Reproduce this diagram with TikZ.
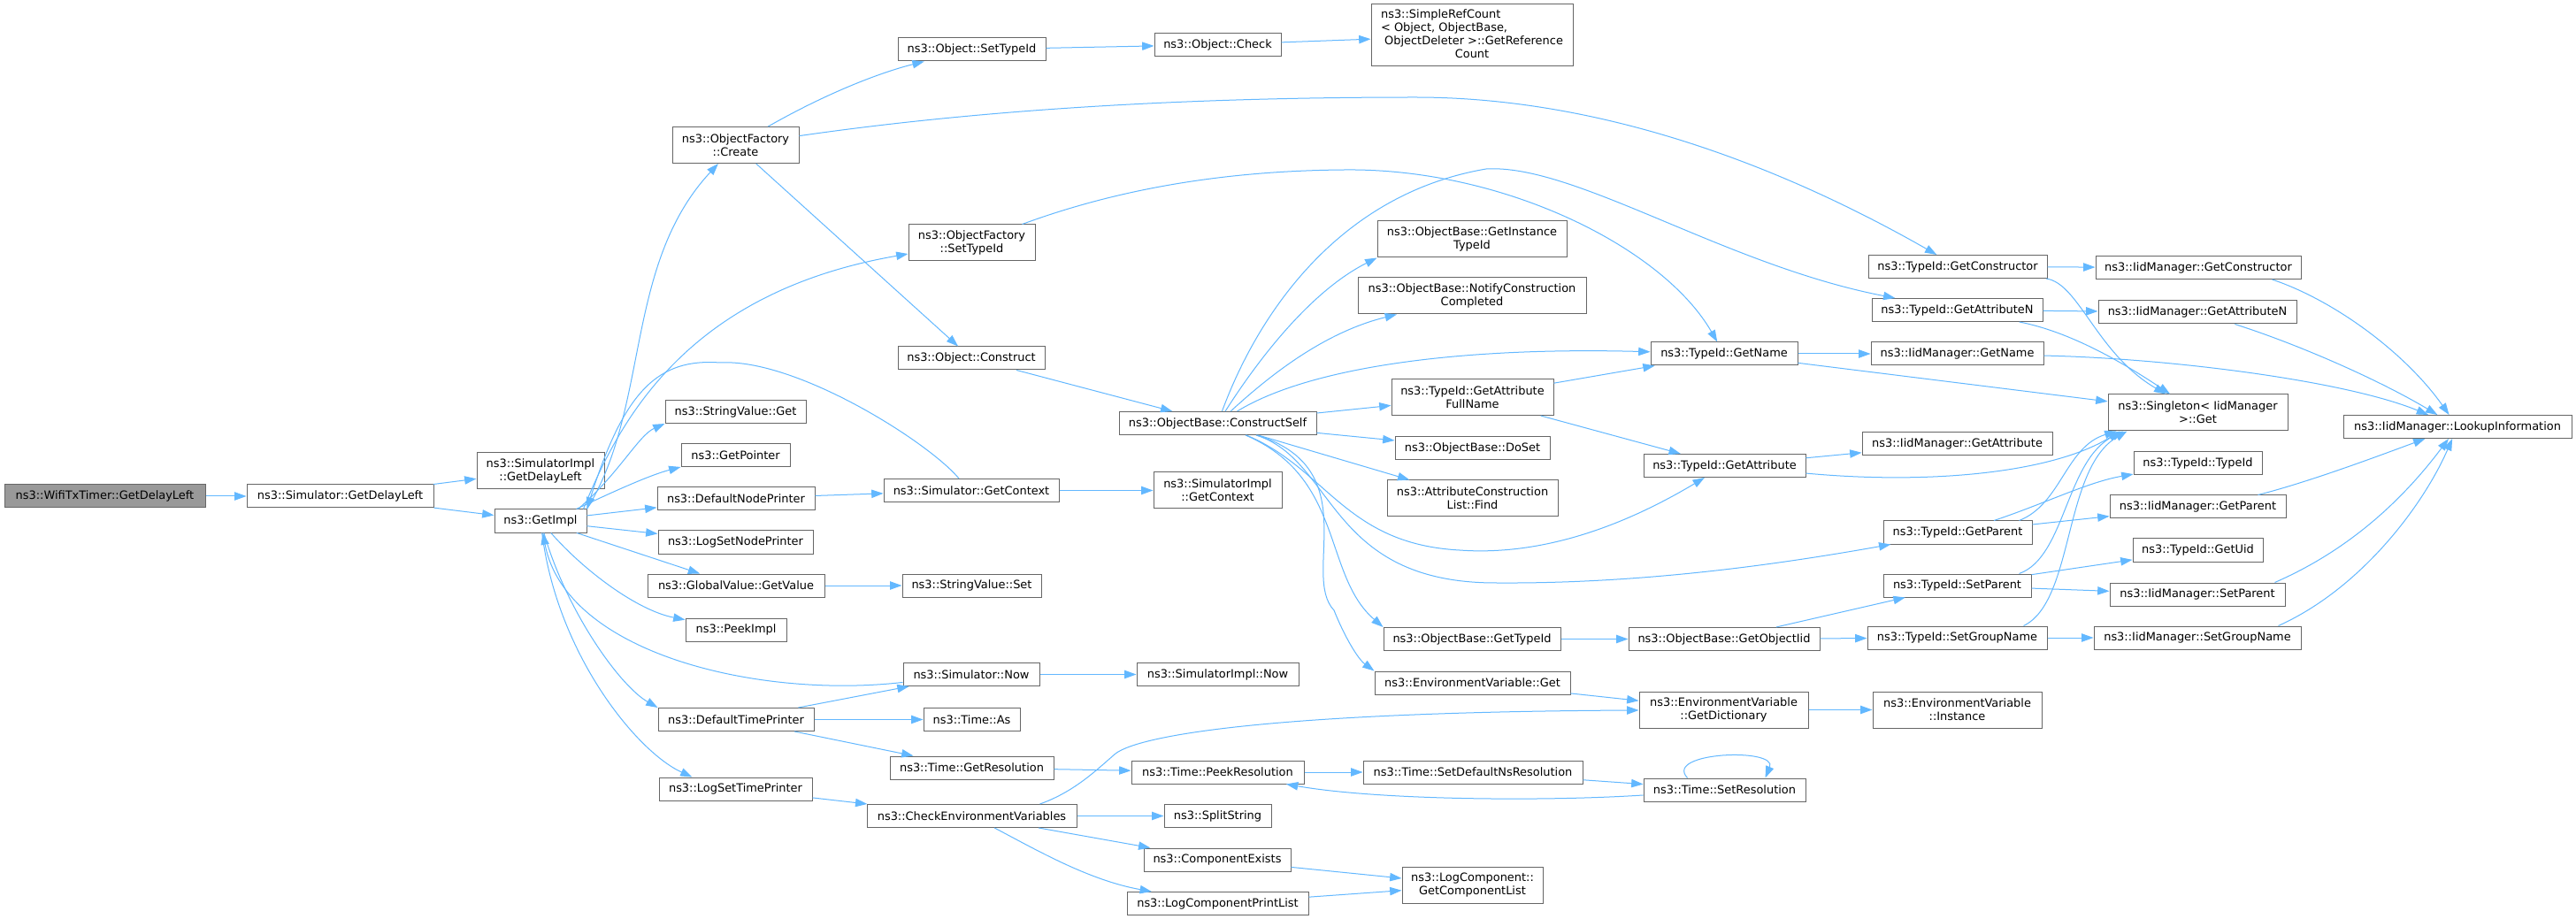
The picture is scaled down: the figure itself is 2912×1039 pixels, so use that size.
\documentclass[tikz,border=0pt]{standalone}
\usepackage{fontspec}
\setmainfont{DejaVu Sans}
\usetikzlibrary{arrows.meta,calc}
\definecolor{edgeblue}{HTML}{63B8FF}
\definecolor{nborder}{HTML}{666666}
\definecolor{mainfill}{HTML}{999999}
\begin{document}
\begin{tikzpicture}[x=0.75bp,y=-0.75bp,
  nd/.style={draw=nborder,fill=white,line width=0.75bp,inner sep=0pt,minimum height=19.5bp,align=center,font=\fontsize{9.7bp}{11.25bp}\selectfont},
  rootnode/.style={nd,fill=mainfill},
  bw/.style={minimum width=#1*0.75bp},
  two/.style={minimum height=30.75bp},
  cg/.style={draw=edgeblue,line width=0.75bp,-{Triangle[length=10bp,width=7bp]}}]
\path[fill=white,use as bounding box] (0,0) rectangle (2912,1039);
% ---- nodes ----
\node[rootnode,bw=227] (wifi) at (118.5,561) {ns3::WifiTxTimer::GetDelayLeft};
\node[nd,bw=211] (simgdl) at (384.5,561) {ns3::Simulator::GetDelayLeft};
\node[nd,bw=144,two] (simimplgdl) at (611,532) {ns3::SimulatorImpl\\::GetDelayLeft};
\node[nd,bw=104] (getimpl) at (611,589) {ns3::GetImpl};
\node[nd,bw=143,two] (create) at (831.5,164) {ns3::ObjectFactory\\::Create};
\node[nd,bw=167] (objsettypeid) at (1098.5,56) {ns3::Object::SetTypeId};
\node[nd,bw=143] (objcheck) at (1376.5,50.5) {ns3::Object::Check};
\node[draw=nborder,fill=white,line width=0.75bp,inner sep=0pt,font=\fontsize{9.7bp}{11.25bp}\selectfont,bw=228,minimum height=52.5bp] (simpleref) at (1664,40) {\begin{tabular}{@{}l@{}}ns3::SimpleRefCount\\< Object, ObjectBase,\\\ ObjectDeleter >::GetReference\\\multicolumn{1}{@{}c@{}}{Count}\end{tabular}};
\node[nd,bw=143,two] (ofsettypeid) at (1098.5,274.5) {ns3::ObjectFactory\\::SetTypeId};
\node[nd,bw=166] (construct) at (1098,405) {ns3::Object::Construct};
\node[nd,bw=223] (constructself) at (1376.5,478.5) {ns3::ObjectBase::ConstructSelf};
\node[nd,bw=159] (svget) at (831.5,465.5) {ns3::StringValue::Get};
\node[nd,bw=123] (getpointer) at (831.5,514.5) {ns3::GetPointer};
\node[nd,bw=178] (defnodeprinter) at (832,563.5) {ns3::DefaultNodePrinter};
\node[nd,bw=198] (simgetcontext) at (1098,554.5) {ns3::Simulator::GetContext};
\node[nd,bw=145,two] (simimplgetcontext) at (1376.5,554.5) {ns3::SimulatorImpl\\::GetContext};
\node[nd,bw=175] (logsetnodeprinter) at (831.5,613) {ns3::LogSetNodePrinter};
\node[nd,bw=200] (gvgetvalue) at (832,662) {ns3::GlobalValue::GetValue};
\node[nd,bw=157] (svset) at (1098.5,662) {ns3::StringValue::Set};
\node[nd,bw=114] (peekimpl) at (832,712) {ns3::PeekImpl};
\node[nd,bw=154] (simnow) at (1098,762.5) {ns3::Simulator::Now};
\node[nd,bw=183] (simimplnow) at (1376.5,762.5) {ns3::SimulatorImpl::Now};
\node[nd,bw=176] (deftimeprinter) at (832,813.5) {ns3::DefaultTimePrinter};
\node[nd,bw=109] (timeas) at (1098.5,813.5) {ns3::Time::As};
\node[nd,bw=185] (timegetres) at (1098.5,868) {ns3::Time::GetResolution};
\node[nd,bw=195] (timepeekres) at (1376.5,873) {ns3::Time::PeekResolution};
\node[nd,bw=173] (logsettimeprinter) at (831.5,892) {ns3::LogSetTimePrinter};
\node[nd,bw=237] (checkenv) at (1098.5,922.5) {ns3::CheckEnvironmentVariables};
\node[nd,bw=121] (splitstring) at (1376.5,922.5) {ns3::SplitString};
\node[nd,bw=166] (compexists) at (1376,972) {ns3::ComponentExists};
\node[nd,bw=205] (logcompprintlist) at (1376.5,1021.5) {ns3::LogComponentPrintList};
\node[nd,bw=214,two] (getinsttypeid) at (1664,270.5) {ns3::ObjectBase::GetInstance\\TypeId};
\node[nd,bw=258,two] (notify) at (1664,334.5) {ns3::ObjectBase::NotifyConstruction\\Completed};
\node[nd,bw=166] (tidgetname) at (1949,400) {ns3::TypeId::GetName};
\node[nd,bw=183,two] (tidgetattrfull) at (1664.5,449) {ns3::TypeId::GetAttribute\\FullName};
\node[nd,bw=175] (doset) at (1664.5,506.5) {ns3::ObjectBase::DoSet};
\node[nd,bw=193,two] (find) at (1664.5,563.5) {ns3::AttributeConstruction\\List::Find};
\node[nd,bw=183] (tidgetattr) at (1949.5,526.5) {ns3::TypeId::GetAttribute};
\node[nd,bw=200] (obgettypeid) at (1664,722.5) {ns3::ObjectBase::GetTypeId};
\node[nd,bw=216] (obgetobjiid) at (1949,722.5) {ns3::ObjectBase::GetObjectIid};
\node[nd,bw=221] (envget) at (1664.5,772) {ns3::EnvironmentVariable::Get};
\node[nd,bw=191,two] (envgetdict) at (1948.5,802.5) {ns3::EnvironmentVariable\\::GetDictionary};
\node[nd,bw=191,two] (envinstance) at (2212.5,802.5) {ns3::EnvironmentVariable\\::Instance};
\node[nd,bw=248] (setdefns) at (1665,873) {ns3::Time::SetDefaultNsResolution};
\node[nd,bw=183] (setres) at (1949.5,893) {ns3::Time::SetResolution};
\node[nd,bw=159,two] (getcomplist) at (1664.5,1001) {ns3::LogComponent::\\GetComponentList};
\node[nd,bw=202] (tidgetctor) at (2213,301.5) {ns3::TypeId::GetConstructor};
\node[nd,bw=193] (tidgetattrn) at (2212.5,350.5) {ns3::TypeId::GetAttributeN};
\node[nd,bw=195] (iidgetname) at (2212.5,400) {ns3::IidManager::GetName};
\node[nd,bw=215] (iidgetattr) at (2212.5,501.5) {ns3::IidManager::GetAttribute};
\node[nd,bw=168] (tidgetparent) at (2213,602) {ns3::TypeId::GetParent};
\node[nd,bw=167] (tidsetparent) at (2212.5,662) {ns3::TypeId::SetParent};
\node[nd,bw=203] (tidsetgroup) at (2212.5,721) {ns3::TypeId::SetGroupName};
\node[nd,bw=232] (iidgetctor) at (2485,302.5) {ns3::IidManager::GetConstructor};
\node[nd,bw=224] (iidgetattrn) at (2484,353) {ns3::IidManager::GetAttributeN};
\node[nd,bw=203,two] (singleton) at (2484.5,466.5) {ns3::Singleton< IidManager\\>::Get};
\node[nd,bw=258] (lookup) at (2778,482.5) {ns3::IidManager::LookupInformation};
\node[nd,bw=145] (tidtypeid) at (2484.5,523.5) {ns3::TypeId::TypeId};
\node[nd,bw=199] (iidgetparent) at (2484.5,573) {ns3::IidManager::GetParent};
\node[nd,bw=147] (tidgetuid) at (2484.5,622) {ns3::TypeId::GetUid};
\node[nd,bw=198] (iidsetparent) at (2484,672) {ns3::IidManager::SetParent};
\node[nd,bw=234] (iidsetgroup) at (2484,721) {ns3::IidManager::SetGroupName};
% ---- edges ----
\draw[cg] (wifi) -- (simgdl);
\draw[cg] (simgdl) -- (simimplgdl);
\draw[cg] (simgdl) -- (getimpl);
\draw[cg] (getimpl.north east) .. controls (735,460) and (705,300) .. (create);
\draw[cg] ($(getimpl.north east)+(-4,0)$) .. controls (702,470) and (780,330) .. (ofsettypeid);
\draw[cg] ($(getimpl.north east)+(-10,0)$) .. controls (700,535) and (722,492) .. (svget.south west);
\draw[cg] ($(getimpl.north east)+(-12,0)$) .. controls (695,555) and (735,537) .. (getpointer.south west);
\draw[cg] (getimpl) -- (defnodeprinter);
\draw[cg] (getimpl) -- (logsetnodeprinter);
\draw[cg] (getimpl) -- (gvgetvalue);
\draw[cg] (getimpl) .. controls (660,645) and (720,690) .. (peekimpl);
\draw[cg] (simnow) .. controls (860,790) and (640,740) .. (getimpl);
\draw[cg] (getimpl) .. controls (640,690) and (700,775) .. (deftimeprinter.north west);
\draw[cg] (getimpl) .. controls (630,740) and (720,850) .. ($(logsettimeprinter.north west)+(38,0)$);
\draw[cg] ($(simgetcontext.north)+(-14,0)$) .. controls (1050,500) and (900,405) .. (814,410) .. controls (745,405) and (706,440) .. (getimpl.north east);
\draw[cg] (create) .. controls (935,105) and (995,82) .. (objsettypeid);
\draw[cg] (create) .. controls (1150,118) and (1400,110) .. (1600,110) .. controls (1800,110) and (2000,180) .. (tidgetctor);
\draw[cg] (create) -- (construct);
\draw[cg] (objsettypeid) -- (objcheck);
\draw[cg] (objcheck) -- (simpleref);
\draw[cg] (ofsettypeid) .. controls (1260,215) and (1380,193) .. (1520,192) .. controls (1700,190) and (1880,280) .. (tidgetname);
\draw[cg] (construct) -- (constructself);
\draw[cg] (constructself) .. controls (1420,360) and (1510,220) .. (1680,191) .. controls (1780,185) and (1950,300) .. (tidgetattrn);
\draw[cg] (constructself) .. controls (1420,410) and (1480,330) .. (getinsttypeid.south west);
\draw[cg] (constructself) .. controls (1440,420) and (1500,375) .. (notify);
\draw[cg] (constructself) .. controls (1480,415) and (1650,392) .. (tidgetname);
\draw[cg] (constructself) -- (tidgetattrfull);
\draw[cg] (constructself) -- (doset);
\draw[cg] (constructself) -- (find);
\draw[cg] (constructself) .. controls (1500,530) and (1520,615) .. (1650,622) .. controls (1760,630) and (1860,580) .. (tidgetattr);
\draw[cg] (constructself) .. controls (1510,520) and (1500,660) .. (1693,659) .. controls (1850,660) and (2000,640) .. (tidgetparent);
\draw[cg] (constructself) .. controls (1520,540) and (1495,650) .. (obgettypeid.north west);
\draw[cg] (constructself) .. controls (1545,530) and (1470,650) .. (1508,690) .. controls (1520,720) and (1535,745) .. (envget.north west);
\draw[cg] (tidgetattrfull) -- (tidgetname);
\draw[cg] (tidgetattrfull) -- (tidgetattr);
\draw[cg] (tidgetname) -- (iidgetname);
\draw[cg] (tidgetname) -- (singleton);
\draw[cg] (tidgetattr) -- (iidgetattr);
\draw[cg] (tidgetattr) .. controls (2180,548) and (2320,535) .. ($(singleton.south west)+(14,0)$);
\draw[cg] (tidgetctor) -- (iidgetctor);
\draw[cg] (tidgetctor) .. controls (2350,320) and (2370,400) .. (singleton);
\draw[cg] (tidgetattrn) -- (iidgetattrn);
\draw[cg] (tidgetattrn) .. controls (2340,375) and (2400,410) .. (singleton);
\draw[cg] ($(iidgetctor.south east)+(-33,0)$) .. controls (2640,340) and (2720,400) .. (lookup);
\draw[cg] (iidgetattrn) .. controls (2600,390) and (2690,430) .. (lookup);
\draw[cg] (iidgetname) .. controls (2450,405) and (2650,430) .. (lookup);
\draw[cg] (tidgetparent) .. controls (2310,570) and (2360,545) .. (tidtypeid);
\draw[cg] (tidgetparent) -- (iidgetparent);
\draw[cg] ($(tidgetparent.north east)+(-15,0)$) .. controls (2330,570) and (2335,505) .. ($(singleton.south west)+(10,0)$);
\draw[cg] (tidsetparent) -- (tidgetuid);
\draw[cg] (tidsetparent) -- (iidsetparent);
\draw[cg] ($(tidsetparent.north east)+(-14,0)$) .. controls (2335,630) and (2335,520) .. ($(singleton.south west)+(18,0)$);
\draw[cg] (tidsetgroup) -- (iidsetgroup);
\draw[cg] ($(tidsetgroup.north east)+(-27,0)$) .. controls (2345,680) and (2332,530) .. ($(singleton.south west)+(22,0)$);
\draw[cg] ($(iidgetparent.north east)+(-32,0)$) .. controls (2610,545) and (2690,515) .. (lookup);
\draw[cg] ($(iidsetparent.north east)+(-12,0)$) .. controls (2660,620) and (2720,560) .. (lookup);
\draw[cg] ($(iidsetgroup.north east)+(-26,0)$) .. controls (2670,665) and (2740,570) .. (lookup);
\draw[cg] (obgettypeid) -- (obgetobjiid);
\draw[cg] (obgetobjiid) -- (tidsetparent);
\draw[cg] (obgetobjiid) -- (tidsetgroup);
\draw[cg] (envget) -- (envgetdict);
\draw[cg] ($(checkenv.north east)+(-42,0)$) .. controls (1215,895) and (1240,870) .. (1261,852) .. controls (1290,830) and (1450,805) .. (envgetdict);
\draw[cg] (envgetdict) -- (envinstance);
\draw[cg] (timegetres) -- (timepeekres);
\draw[cg] (timepeekres) -- (setdefns);
\draw[cg] (setdefns) -- (setres);
\draw[cg] (setres) .. controls (1750,906) and (1560,905) .. (timepeekres);
\draw[cg] ($(setres.north)+(-42,0)$) .. controls (1880,850) and (2010,845) .. ($(setres.north)+(46,0)$);
\draw[cg] (defnodeprinter) -- (simgetcontext);
\draw[cg] (simgetcontext) -- (simimplgetcontext);
\draw[cg] (gvgetvalue) -- (svset);
\draw[cg] (simnow) -- (simimplnow);
\draw[cg] (deftimeprinter) -- (simnow);
\draw[cg] (deftimeprinter) -- (timeas);
\draw[cg] (deftimeprinter) -- (timegetres);
\draw[cg] (logsettimeprinter) -- (checkenv);
\draw[cg] (checkenv) -- (splitstring);
\draw[cg] (checkenv) -- (compexists);
\draw[cg] (checkenv) .. controls (1170,960) and (1230,995) .. (logcompprintlist);
\draw[cg] (compexists) -- (getcomplist);
\draw[cg] (logcompprintlist) -- (getcomplist);
\end{tikzpicture}
\end{document}
